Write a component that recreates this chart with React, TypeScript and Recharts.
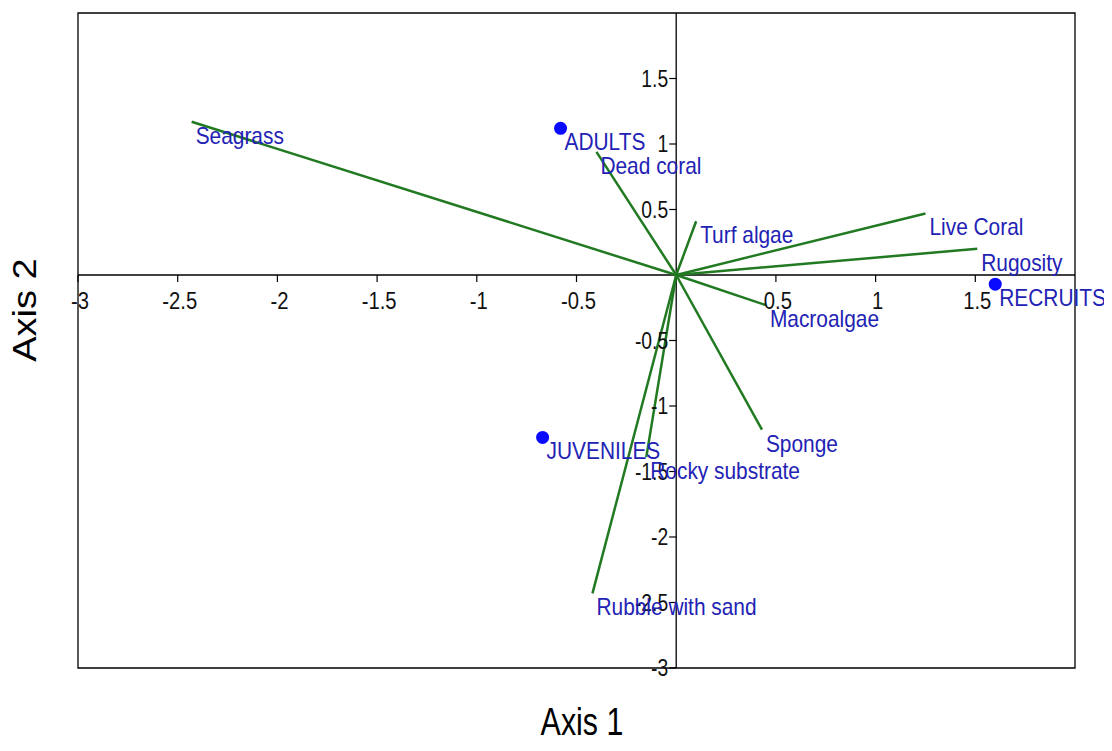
import React from 'react';
import { ComposedChart, XAxis, YAxis, Scatter, ReferenceLine, ReferenceArea, ReferenceDot } from 'recharts';

// environmental vectors (arrow tips)
const vectorNames = ['Seagrass', 'Dead coral', 'Turf algae', 'Live Coral', 'Rugosity', 'Macroalgae', 'Sponge', 'Rocky substrate', 'Rubble with sand'];
const vectorX = [-2.43, -0.4, 0.1, 1.25, 1.51, 0.45, 0.43, -0.15, -0.42];
const vectorY = [1.17, 0.94, 0.41, 0.47, 0.2, -0.23, -1.18, -1.39, -2.43];

// life stage scores
const groupNames = ['ADULTS', 'RECRUITS', 'JUVENILES'];
const groupX = [-0.58, 1.6, -0.67];
const groupY = [1.12, -0.07, -1.24];

const xTicks = [-3, -2.5, -2, -1.5, -1, -0.5, 0.5, 1, 1.5];
const yTicks = [1.5, 1, 0.5, -0.5, -1, -1.5, -2, -2.5, -3];

const vectors = vectorNames.map((name, i) => ({ name, x: vectorX[i], y: vectorY[i] }));
const groups = groupNames.map((name, i) => ({ name, x: groupX[i], y: groupY[i] }));

const FONT = '"Liberation Sans", Arial, sans-serif';
const GREEN = '#217a21';
const LABEL_BLUE = '#2222b4';

const NameLabel = ({ cx, cy, text }: any) => (
  <text
    transform={`translate(${cx + 4},${cy + 22}) scale(0.87,1)`}
    fontFamily={FONT}
    fontSize={24}
    fill={LABEL_BLUE}
  >
    {text}
  </text>
);

const VectorTip = (props: any) => {
  const name = props.payload?.name ?? props.name;
  return <NameLabel cx={props.cx} cy={props.cy} text={name} />;
};

const GroupPoint = (props: any) => {
  const name = props.payload?.name ?? props.name;
  return (
    <g>
      <circle cx={props.cx} cy={props.cy} r={6.5} fill="#0a0aff" />
      <NameLabel cx={props.cx} cy={props.cy} text={name} />
    </g>
  );
};

const XTick = ({ cx, cy, label }: any) => (
  <g>
    <line x1={cx} y1={cy} x2={cx} y2={cy + 7} stroke="#000" strokeWidth={1.2} />
    <text
      transform={`translate(${cx + 2},${cy + 34}) scale(0.88,1)`}
      textAnchor="middle"
      fontFamily={FONT}
      fontSize={23}
      fill="#111"
    >
      {label}
    </text>
  </g>
);

const YTick = ({ cx, cy, label }: any) => (
  <g>
    <line x1={cx - 7} y1={cy} x2={cx} y2={cy} stroke="#000" strokeWidth={1.2} />
    <text
      transform={`translate(${cx - 8},${cy + 8}) scale(0.84,1)`}
      textAnchor="end"
      fontFamily={FONT}
      fontSize={23}
      fill="#111"
    >
      {label}
    </text>
  </g>
);

export default function App() {
  return (
    <div style={{ position: 'relative', width: 1104, height: 735 }}>
      <ComposedChart
        width={1104}
        height={735}
        margin={{ top: 5, right: 37, bottom: 75, left: 70 }}
        style={{ overflow: 'visible' }}
      >
        <XAxis type="number" dataKey="x" domain={[-3, 2]} hide />
        <YAxis type="number" dataKey="y" domain={[-3, 2]} hide />
        <ReferenceArea x1={-3} x2={2} y1={-3} y2={2} fill="none" stroke="#000" strokeWidth={1.3} fillOpacity={0} />
        <ReferenceLine x={0} stroke="#000" strokeWidth={1.3} />
        <ReferenceLine y={0} stroke="#000" strokeWidth={1.3} />
        {xTicks.map((t) => (
          <ReferenceDot key={'xt' + t} x={t} y={0} r={0} shape={(p: any) => <XTick {...p} label={String(t)} />} />
        ))}
        {yTicks.map((t) => (
          <ReferenceDot key={'yt' + t} x={0} y={t} r={0} shape={(p: any) => <YTick {...p} label={String(t)} />} />
        ))}
        {vectors.map((v) => (
          <ReferenceLine
            key={v.name}
            segment={[{ x: 0, y: 0 }, { x: v.x, y: v.y }]}
            stroke={GREEN}
            strokeWidth={2.5}
          />
        ))}
        <Scatter data={vectors} dataKey="y" shape={VectorTip} isAnimationActive={false} />
        <Scatter data={groups} dataKey="y" shape={GroupPoint} isAnimationActive={false} />
      </ComposedChart>
      <div
        style={{
          position: 'absolute',
          left: 574,
          top: 714,
          transform: 'translate(-50%, -50%) scaleX(0.8)',
          fontFamily: FONT,
          fontSize: 38,
          whiteSpace: 'nowrap',
          color: '#000',
        }}
      >
        Axis 1
      </div>
      <div
        style={{
          position: 'absolute',
          left: 17,
          top: 302,
          transform: 'translate(-50%, -50%) scaleX(0.85) rotate(-90deg)',
          fontFamily: FONT,
          fontSize: 38,
          whiteSpace: 'nowrap',
          color: '#000',
        }}
      >
        Axis 2
      </div>
    </div>
  );
}
